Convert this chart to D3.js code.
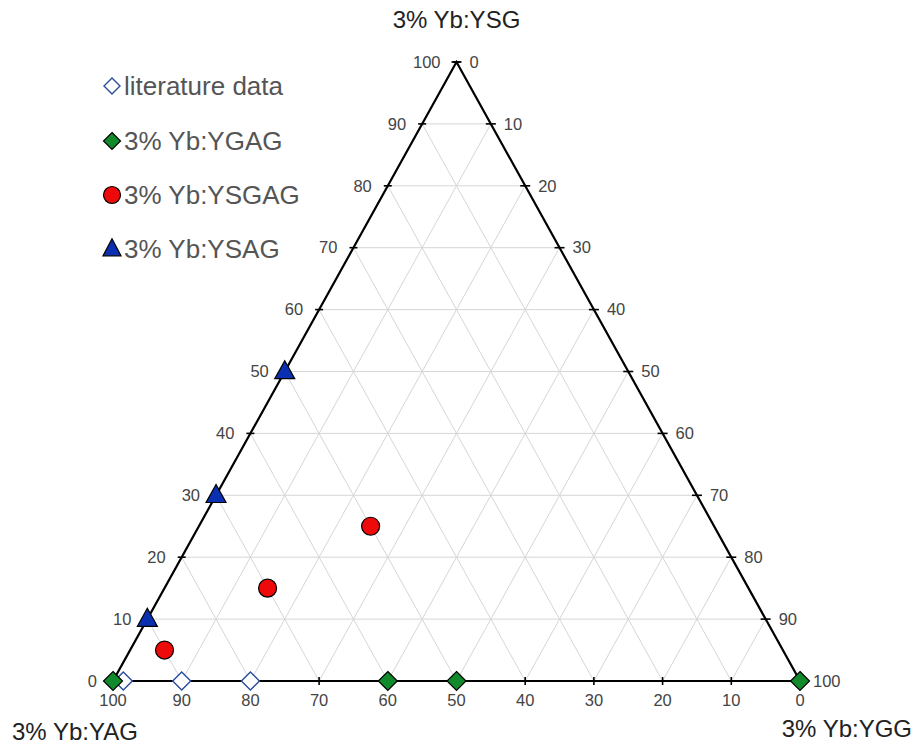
<!DOCTYPE html>
<html>
<head>
<meta charset="utf-8">
<script src="https://cdn.jsdelivr.net/npm/d3@7"></script>
<style>
  html, body { margin: 0; padding: 0; background: #fff; }
  svg { display: block; font-family: "Liberation Sans", Arial, sans-serif; }
</style>
</head>
<body>
<svg id="chart" width="922" height="747"></svg>
<script>
// Compositions in mol % : YAG (bottom-left), YGG (bottom-right), YSG (top)
const literatureYAG = [98.5, 90, 80];
const literatureYGG = [1.5, 10, 20];
const literatureYSG = [0, 0, 0];

const ygagYAG = [100, 60, 50, 0];
const ygagYGG = [0, 40, 50, 100];
const ygagYSG = [0, 0, 0, 0];

const ysgagYAG = [90, 70, 50];
const ysgagYGG = [5, 15, 25];
const ysgagYSG = [5, 15, 25];

const ysagYAG = [90, 70, 50];
const ysagYGG = [0, 0, 0];
const ysagYSG = [10, 30, 50];

const tickValues = d3.range(0, 101, 10);
const axisTitles = { top: "3% Yb:YSG", left: "3% Yb:YAG", right: "3% Yb:YGG" };
const legendLabels = ["literature data", "3% Yb:YGAG", "3% Yb:YSGAG", "3% Yb:YSAG"];

const svg = d3.select("#chart");

// Ternary frame
const left = 113, right = 800, baseY = 681, topY = 62;
const along = d3.scaleLinear().domain([0, 100]).range([0, right - left]);
const yScale = d3.scaleLinear().domain([0, 100]).range([baseY, topY]);

// (ygg, ysg) -> pixel; YAG is the remainder
function proj(ygg, ysg) {
  return [left + along(ygg) + along(ysg) / 2, yScale(ysg)];
}

const g = svg.append("g");

// Grid lines every 10 %
const grid = g.append("g").attr("stroke", "#d6d6d6").attr("stroke-width", 1);
tickValues.filter(k => k > 0 && k < 100).forEach(k => {
  // constant YSG (horizontal)
  let a = proj(0, k), b = proj(100 - k, k);
  grid.append("line").attr("x1", a[0]).attr("y1", a[1]).attr("x2", b[0]).attr("y2", b[1]);
  // constant YAG (parallel to right edge)
  a = proj(100 - k, 0); b = proj(0, 100 - k);
  grid.append("line").attr("x1", a[0]).attr("y1", a[1]).attr("x2", b[0]).attr("y2", b[1]);
  // constant YGG (parallel to left edge)
  a = proj(k, 0); b = proj(k, 100 - k);
  grid.append("line").attr("x1", a[0]).attr("y1", a[1]).attr("x2", b[0]).attr("y2", b[1]);
});

// Triangle outline
const corners = [proj(0, 0), proj(100, 0), proj(0, 100)];
g.append("path")
  .attr("d", d3.line()(corners) + "Z")
  .attr("fill", "none")
  .attr("stroke", "#000")
  .attr("stroke-width", 2.2)
  .attr("stroke-linejoin", "miter");

// Tick marks
const ticks = g.append("g").attr("stroke", "#000").attr("stroke-width", 1.6);
tickValues.forEach(k => {
  // left edge (YSG)
  let p = proj(0, k);
  ticks.append("line").attr("x1", p[0] - 4).attr("x2", p[0] + 4).attr("y1", p[1]).attr("y2", p[1]);
  // right edge (YGG)
  p = proj(k, 100 - k);
  ticks.append("line").attr("x1", p[0] - 5).attr("x2", p[0] + 5).attr("y1", p[1]).attr("y2", p[1]);
  // bottom edge (YAG)
  p = proj(100 - k, 0);
  ticks.append("line").attr("x1", p[0]).attr("x2", p[0]).attr("y1", p[1] - 4).attr("y2", p[1] + 4);
});

// Tick labels
const lab = g.append("g").attr("fill", "#444").attr("font-size", 16.5);
tickValues.forEach(k => {
  let p = proj(0, k);
  lab.append("text").attr("x", p[0] - 16).attr("y", p[1]).attr("dy", "0.35em")
    .attr("text-anchor", "end").text(k);
  p = proj(100 - k, k);
  lab.append("text").attr("x", p[0] + 13).attr("y", p[1]).attr("dy", "0.35em")
    .attr("text-anchor", "start").text(100 - k);
  p = proj(100 - k, 0);
  lab.append("text").attr("x", p[0]).attr("y", p[1] + 25)
    .attr("text-anchor", "middle").text(k);
});

// Axis titles
const titles = g.append("g").attr("fill", "#222").attr("font-size", 24);
titles.append("text").attr("x", proj(0, 100)[0]).attr("y", 28).attr("text-anchor", "middle").text(axisTitles.top);
titles.append("text").attr("x", 12).attr("y", 740).attr("text-anchor", "start").text(axisTitles.left);
titles.append("text").attr("x", 912).attr("y", 737).attr("text-anchor", "end").text(axisTitles.right);

// Marker shapes
function diamond(cx, cy, r) {
  return `M${cx},${cy - r}L${cx + r},${cy}L${cx},${cy + r}L${cx - r},${cy}Z`;
}
function triangle(cx, cy, w, h) {
  return `M${cx},${cy - h * 0.6}L${cx + w / 2},${cy + h * 0.4}L${cx - w / 2},${cy + h * 0.4}Z`;
}

const styles = {
  literature: { fill: "#fff", stroke: "#2a4c9c" },
  ygag: { fill: "#118a2c", stroke: "#000" },
  ysgag: { fill: "#ee0a0a", stroke: "#000" },
  ysag: { fill: "#0a2fb0", stroke: "#000" }
};

const marks = g.append("g");

// Literature data
literatureYAG.forEach((v, i) => {
  const p = proj(literatureYGG[i], literatureYSG[i]);
  marks.append("path").attr("d", diamond(p[0], p[1], 9))
    .attr("fill", styles.literature.fill).attr("stroke", styles.literature.stroke).attr("stroke-width", 1.4);
});
// YGAG
ygagYAG.forEach((v, i) => {
  const p = proj(ygagYGG[i], ygagYSG[i]);
  marks.append("path").attr("d", diamond(p[0], p[1], 9.5))
    .attr("fill", styles.ygag.fill).attr("stroke", styles.ygag.stroke).attr("stroke-width", 1.2);
});
// YSGAG
ysgagYAG.forEach((v, i) => {
  const p = proj(ysgagYGG[i], ysgagYSG[i]);
  marks.append("circle").attr("cx", p[0]).attr("cy", p[1]).attr("r", 9)
    .attr("fill", styles.ysgag.fill).attr("stroke", styles.ysgag.stroke).attr("stroke-width", 1.2);
});
// YSAG
ysagYAG.forEach((v, i) => {
  const p = proj(ysagYGG[i], ysagYSG[i]);
  marks.append("path").attr("d", triangle(p[0], p[1], 20, 18))
    .attr("fill", styles.ysag.fill).attr("stroke", styles.ysag.stroke).attr("stroke-width", 1.2);
});

// Legend
const legend = svg.append("g");
const legendY = [86, 141, 195, 249];
const lx = 112;
legend.append("path").attr("d", diamond(lx, legendY[0], 8))
  .attr("fill", styles.literature.fill).attr("stroke", styles.literature.stroke).attr("stroke-width", 1.4);
legend.append("path").attr("d", diamond(lx, legendY[1], 8.5))
  .attr("fill", styles.ygag.fill).attr("stroke", styles.ygag.stroke).attr("stroke-width", 1.2);
legend.append("circle").attr("cx", lx).attr("cy", legendY[2]).attr("r", 8.5)
  .attr("fill", styles.ysgag.fill).attr("stroke", styles.ysgag.stroke).attr("stroke-width", 1.2);
legend.append("path").attr("d", triangle(lx, legendY[3], 18, 17))
  .attr("fill", styles.ysag.fill).attr("stroke", styles.ysag.stroke).attr("stroke-width", 1.2);
legend.selectAll("text.leg").data(legendLabels).enter().append("text")
  .attr("class", "leg")
  .attr("x", 124).attr("y", (d, i) => legendY[i]).attr("dy", "0.36em")
  .attr("font-size", 26).attr("fill", "#555")
  .text(d => d);
</script>
</body>
</html>
